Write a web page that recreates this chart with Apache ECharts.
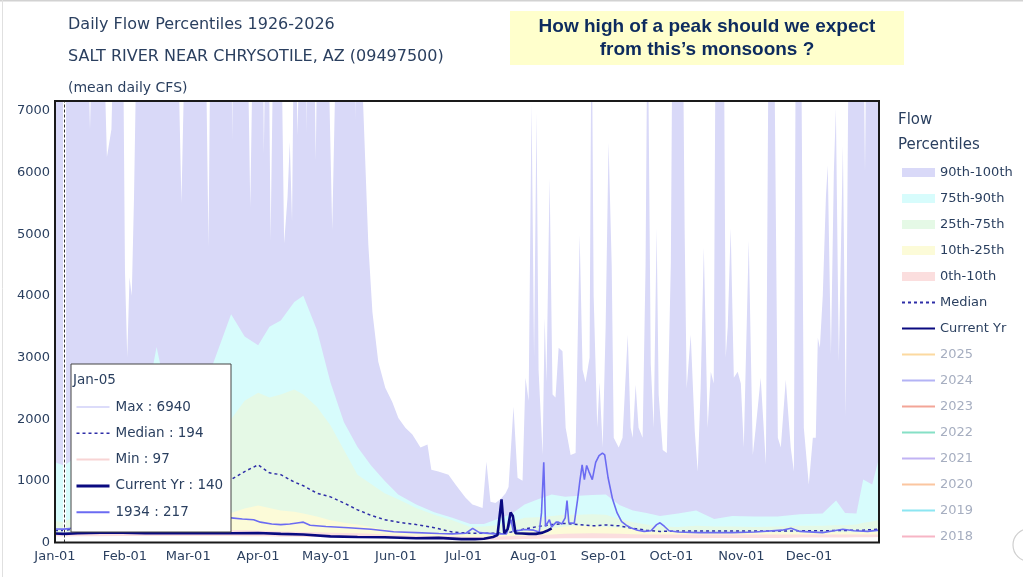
<!DOCTYPE html>
<html><head><meta charset="utf-8">
<script src="https://cdn.jsdelivr.net/npm/echarts@6/dist/echarts.min.js"></script>
<style>html,body{margin:0;padding:0;background:#fff;overflow:hidden}#c{width:1023px;height:577px}</style>
</head><body><div id="c"></div>
<script>
// ---------- tick labels ----------
const monthTickDays = [0,31,59,90,120,151,181,212,243,273,304,334];
const monthTickLabels = ['Jan-01','Feb-01','Mar-01','Apr-01','May-01','Jun-01','Jul-01','Aug-01','Sep-01','Oct-01','Nov-01','Dec-01'];
const yTicks = [0,1000,2000,3000,4000,5000,6000,7000];
const hoverDay = 4;            // Jan-05 (hover date)
const hoverLabel = 'Jan-05';

// ---------- daily maximum (top of 90th-100th band), day of year ----------
const maxDay = [0,3,4,5,14,15.5,17,21,23,25,26.5,30,31,32,33,34,35,36.5,54,56,58,66.5,68,69,78,78.5,79,85,86.5,88,92,92.5,93.5,94.5,95.5,97,100,101.5,103,104,105,106,107.5,108.5,111,111.5,112,114.5,115.5,116.5,120.5,122.8,125,132.5,133,133.5,135,136.1,138.8,140.6,143.2,146.3,149.4,152.1,155.2,158.3,161.9,165,166.7,169.8,174.3,177.4,181.8,184.9,186.3,189.4,191.1,192.9,195.1,197.3,199.6,200.9,203.1,204.9,207.1,208.4,209.8,211.1,212.2,213.3,214.2,216,216.9,217.7,219.1,220.4,221.7,223.1,224.8,226.2,228.4,230.6,232.4,233.7,235,236.8,237.7,238.6,240.2,241.2,242.6,243.9,245.2,246.6,247.5,249.7,251.4,253.7,255,255.9,257.2,258.5,260.3,261.6,262.5,263.9,265.2,266.5,267.4,269.2,271,272.8,273.6,278,278.9,279.8,281.6,283.4,284.7,286,287.4,289.1,290.5,291.8,292.7,296.2,297.1,298,299.3,300.7,302.4,303.8,305.1,307.3,309.1,310.4,312.6,314.9,316.2,318.4,320.2,321.5,323.7,325.9,327.3,328.2,330.4,331.7,333.9,335.7,337,337.9,338.8,340.1,341.5,342.3,343.7,345,345.9,347.2,349,350.3,351.7,357.9,358.8,359.6,365];
const maxCfs = [9000,9000,6940,9000,9000,6690,9000,9000,6250,6700,9000,9000,4400,3000,4300,4000,5600,9000,9000,5500,9000,9000,4800,9000,9000,6520,9000,9000,5440,9000,9000,6300,9000,9000,4900,9000,9000,4850,5600,6500,5200,9000,6600,9000,9000,6650,9000,9000,6200,9000,9000,5070,9000,9000,6850,9000,9000,7500,4830,3740,2930,2510,2280,2020,1860,1750,1540,1590,1180,1150,1100,940,730,615,600,560,1310,660,640,700,800,900,2200,1050,1000,2670,2300,7120,3000,6980,2800,1420,3640,2600,5910,2400,2350,3160,3100,1860,1420,1450,4990,2800,2600,3000,9000,4000,1860,2600,1540,3480,6490,4500,1700,1540,1700,3370,1860,1700,2560,1860,1700,4500,9000,2900,1860,5100,2400,1500,1450,4540,9000,9000,5100,2500,3370,1800,1150,2500,4790,1860,2770,2580,9000,9000,3000,3500,5100,2670,2770,2580,1540,4900,1420,1860,2670,1260,9000,9000,1700,1540,2640,1540,1150,9000,9000,1860,940,1700,1700,3320,3160,4010,5620,6120,3050,6010,7040,2930,6440,2050,9000,9000,6000,9000,9000];

// ---------- percentile curves, day of year ----------
const bandDay = [0,4,10,20,30,40,45,50,60,70,74,78,84,90,95,100,106,110,116,122,128,134,140,146,152,160,168,176,184,190,196,202,208,214,220,226,232,238,244,250,256,262,268,276,284,292,300,310,320,330,340,346,350,355,358,362,365];
const p90 = [1300,1250,1400,1600,1800,2200,3170,2300,2500,2900,3300,3700,3340,3200,3500,3600,3900,4000,3450,2600,1950,1550,1250,1000,780,615,490,400,300,300,380,460,615,700,780,740,760,770,780,610,520,480,430,470,520,380,430,420,420,460,470,680,480,470,1020,940,1370];
const p75 = [350,330,450,650,900,1200,1400,1500,1700,1850,1950,2000,2300,2430,2350,2400,2480,2400,2200,1900,1500,1100,950,800,700,560,450,360,250,260,280,330,400,410,430,450,450,460,450,380,330,290,260,250,270,260,260,250,260,270,270,280,280,290,320,340,370];
const median = [194,194,230,300,400,500,560,620,750,880,950,1020,1150,1260,1130,1100,980,920,800,740,640,530,440,370,330,290,240,170,150,150,150,170,220,260,290,310,290,270,285,270,230,200,180,185,185,185,185,185,185,190,190,195,195,200,200,210,215];
const p25 = [160,160,190,230,280,330,360,380,420,450,460,480,550,600,560,520,500,470,420,360,320,290,250,210,190,180,160,145,125,125,125,150,180,200,230,260,270,260,250,240,220,175,170,165,165,165,165,165,165,165,165,165,165,165,170,170,175];
const p10 = [130,130,140,150,160,170,175,180,190,195,200,200,200,190,185,180,175,170,165,160,155,150,140,130,120,110,105,100,90,90,95,105,110,120,130,140,145,150,145,140,135,130,130,130,130,130,130,130,130,130,130,130,130,130,130,130,130];
const minCfs = [100,97,100,100,105,105,105,105,105,105,105,105,100,100,100,95,95,90,90,85,80,80,75,70,65,60,55,50,40,40,45,50,55,60,65,70,70,70,70,70,70,70,70,70,70,75,75,75,75,80,80,80,80,85,85,85,90];

// ---------- current year ----------
const curDay = [0,4,10,20,30,40,50,60,70,78,90,100,110,122,134,146,160,170,180,186,190,194,196,197.8,199,200.5,201.8,202.8,204,207,210,213,216,218,220];
const curCfs = [145,140,150,160,160,150,150,155,150,150,155,140,130,100,90,85,70,75,55,55,60,90,120,700,150,220,485,430,150,145,140,140,160,190,230];

// ---------- 1934 ----------
const y1934Day = [0,4,10,20,30,40,50,60,70,78,83,88,91,96,100,104,108,110,113,120,130,140,150,160,170,176,182,185,188,195,200,201,202,203,208,212,214.5,215.5,216.5,217.3,219,220,222,223,224.5,226,226.8,227.6,230,231.5,232.5,233.5,234.5,235.5,236.5,238,239.5,241,242.5,243.5,245,247,249,251,253,255,258,261,264,266.5,268,270,272,276,285,300,310,322,326,330,340,345,349,354,360,365];
const y1934Cfs = [220,217,240,280,320,350,380,400,410,400,380,370,330,300,290,300,320,330,280,260,240,215,175,160,145,140,150,230,160,140,140,260,370,180,210,200,170,480,1300,260,370,250,330,330,300,400,680,320,310,700,1000,1260,1020,1250,1150,1020,1300,1410,1450,1420,1050,700,480,340,280,240,200,180,190,290,320,260,190,170,160,160,170,200,230,180,160,190,215,190,180,200];

// ---------- legend-only years ----------
const legendYears = ['2025','2024','2023','2022','2021','2020','2019','2018'];
const legendYearColors = ['#fcd9a0','#b3b3f5','#f3a597','#86e0c6','#c1b3f4','#fbc6a0','#8ce6f2','#f7b5c5'];

// ---------- styling ----------
const FONT = 'DejaVu Sans';
const TXT = '#2a3f5f';
const C = {max:'#d9d9f8', p90:'#d7fcfc', p75:'#e5f9e6', p25:'#fcfbd8', p10:'#fbdede', min:'#ffffff',
           median:'#2e2ea8', cur:'#0a0a80', y1934:'#6b6bf2'};

const zip = (d, v) => d.map((x, i) => [x, v[i]]);
const valAt = (d, v, day) => v[d.indexOf(day)];

function area(name, d, v, color) {
  return {name, type:'line', data: zip(d, v), symbol:'none', silent:true,
          lineStyle:{width:0, color}, itemStyle:{color}, areaStyle:{color, opacity:1}, clip:true};
}

const series = [
  area('90th-100th', maxDay, maxCfs, C.max),
  area('75th-90th', bandDay, p90, C.p90),
  area('25th-75th', bandDay, p75, C.p75),
  area('10th-25th', bandDay, p25, C.p25),
  area('0th-10th', bandDay, p10, C.p10),
  area('Min', bandDay, minCfs, C.min),
  {name:'Median', type:'line', data: zip(bandDay, median), symbol:'none', silent:true,
   lineStyle:{color:C.median, width:1.5, type:[3,3]}, itemStyle:{color:C.median}, z:4},
  {name:'1934', type:'line', data: zip(y1934Day, y1934Cfs), symbol:'none', silent:true,
   lineStyle:{color:C.y1934, width:1.6}, itemStyle:{color:C.y1934}, z:5},
  {name:'Current Yr', type:'line', data: zip(curDay, curCfs), symbol:'none', silent:true,
   lineStyle:{color:C.cur, width:2.6}, itemStyle:{color:C.cur}, z:6,
   markLine:{silent:true, symbol:'none', label:{show:false}, animation:false,
     data:[{xAxis:hoverDay, lineStyle:{color:'#ffffff', width:3, type:'solid'}},
           {xAxis:hoverDay, lineStyle:{color:'#333333', width:1, type:[3,2]}}]}}
];
legendYears.forEach((y, i) => series.push({name:y, type:'line', data:[], symbol:'none',
  lineStyle:{color:legendYearColors[i], width:2}, itemStyle:{color:legendYearColors[i]}}));

const hiddenSymbol = {opacity:0, color:'rgba(0,0,0,0)', borderColor:'rgba(0,0,0,0)', borderWidth:0};
const legendData = [
  {name:'90th-100th', icon:'rect', itemStyle:{color:C.max}},
  {name:'75th-90th', icon:'rect', itemStyle:{color:C.p90}},
  {name:'25th-75th', icon:'rect', itemStyle:{color:C.p75}},
  {name:'10th-25th', icon:'rect', itemStyle:{color:C.p25}},
  {name:'0th-10th', icon:'rect', itemStyle:{color:C.p10}},
  {name:'Median', itemStyle:hiddenSymbol},
  {name:'Current Yr', itemStyle:hiddenSymbol}
].concat(legendYears.map(y => ({name:y, itemStyle:hiddenSymbol, textStyle:{color:'#a6aec0'}})));

// ---------- tooltip-like hover box ----------
const tipRows = [
  {label:'Max', value: valAt(maxDay, maxCfs, hoverDay), color:'#dcdcfa', width:2, type:'solid'},
  {label:'Median', value: valAt(bandDay, median, hoverDay), color:C.median, width:1.5, type:[3,3]},
  {label:'Min', value: valAt(bandDay, minCfs, hoverDay), color:'#f8d4d4', width:2, type:'solid'},
  {label:'Current Yr', value: valAt(curDay, curCfs, hoverDay), color:C.cur, width:3, type:'solid'},
  {label:'1934', value: valAt(y1934Day, y1934Cfs, hoverDay), color:C.y1934, width:2, type:'solid'}
];
const tipChildren = [
  {type:'rect', shape:{x:0.5, y:0.5, width:160, height:168}, style:{fill:'#fff', stroke:'#444', lineWidth:1}, z:100},
  {type:'text', x:2.5, y:17, style:{text:hoverLabel, font:'13.5px "DejaVu Sans"', fill:TXT, verticalAlign:'middle'}, z:101}
];
tipRows.forEach((r, i) => {
  const cy = 43.5 + i * 26.3;
  tipChildren.push({type:'line', shape:{x1:6, y1:cy, x2:39, y2:cy}, style:{stroke:r.color, lineWidth:r.width, lineDash: r.type === 'solid' ? null : r.type}, z:101});
  tipChildren.push({type:'text', x:45, y:cy, style:{text:r.label + ' : ' + r.value, font:'13.5px "DejaVu Sans"', fill:TXT, verticalAlign:'middle'}, z:101});
});

const option = {
  animation:false,
  backgroundColor:'#ffffff',
  title:[
    {text:'Daily Flow Percentiles 1926-2026', left:68, top:15, padding:0, textStyle:{fontFamily:FONT, fontSize:16, fontWeight:'normal', color:TXT, lineHeight:20}},
    {text:'SALT RIVER NEAR CHRYSOTILE, AZ (09497500)', left:68, top:47, padding:0, textStyle:{fontFamily:FONT, fontSize:16, fontWeight:'normal', color:TXT, lineHeight:20}},
    {text:'(mean daily CFS)', left:68, top:79, padding:0, textStyle:{fontFamily:FONT, fontSize:14, fontWeight:'normal', color:TXT, lineHeight:18}},
    {text:'Flow', left:898, top:110.5, padding:0, textStyle:{fontFamily:FONT, fontSize:15, fontWeight:'normal', color:TXT, lineHeight:19}},
    {text:'Percentiles', left:898, top:135.5, padding:0, textStyle:{fontFamily:FONT, fontSize:15, fontWeight:'normal', color:TXT, lineHeight:19}}
  ],
  grid:{left:55, right:144, top:101, bottom:34.5, containLabel:false},
  xAxis:{type:'value', min:0, max:365, axisLine:{show:false}, axisTick:{show:false}, splitLine:{show:false},
    axisLabel:{customValues:monthTickDays, formatter:v => monthTickLabels[monthTickDays.indexOf(v)] || '',
      fontFamily:FONT, fontSize:13, color:TXT, margin:8}},
  yAxis:{type:'value', min:0, max:7160, axisLine:{show:false}, axisTick:{show:false}, splitLine:{show:false},
    axisLabel:{customValues:yTicks, formatter:v => String(v), fontFamily:FONT, fontSize:13, color:TXT, margin:5}},
  legend:{orient:'vertical', left:901, top:166, itemWidth:33, itemHeight:9, itemGap:13, selectedMode:false,
    padding:0, textStyle:{fontFamily:FONT, fontSize:13, color:TXT}, data:legendData},
  series,
  graphic:[
    {type:'rect', shape:{x:55, y:101, width:824, height:441.5}, style:{fill:null, stroke:'#1a1a1a', lineWidth:2}, z:90, silent:true},
    {type:'group', x:70.5, y:363.5, children:tipChildren},
    {type:'rect', shape:{x:510, y:11, width:394, height:54}, style:{fill:'#ffffcc'}, z:5},
    {type:'text', x:707, y:26.7, style:{text:'How high of a peak should we expect', font:'bold 19px "Liberation Sans", Arial', fill:'#0d2b5e', align:'center', verticalAlign:'middle'}, z:6},
    {type:'text', x:707, y:50, style:{text:'from this\u2019s monsoons ?', font:'bold 19px "Liberation Sans", Arial', fill:'#0d2b5e', align:'center', verticalAlign:'middle'}, z:6},
    {type:'rect', shape:{x:886, y:544, width:128, height:33}, style:{fill:'#ffffff'}, z:200},
    {type:'circle', shape:{cx:1029.5, cy:545, r:16.5}, style:{fill:'#fff', stroke:'#cfcfcf', lineWidth:1.2}, z:201},
    {type:'line', shape:{x1:0, y1:0.8, x2:1023, y2:0.8}, style:{stroke:'#d2d2d2', lineWidth:1.6}, z:201},
    {type:'line', shape:{x1:2.5, y1:0, x2:2.5, y2:577}, style:{stroke:'#e0e0e0', lineWidth:1}, z:201}
  ]
};

const chart = echarts.init(document.getElementById('c'), null, {renderer:'canvas'});
chart.setOption(option);
</script>
</body></html>
